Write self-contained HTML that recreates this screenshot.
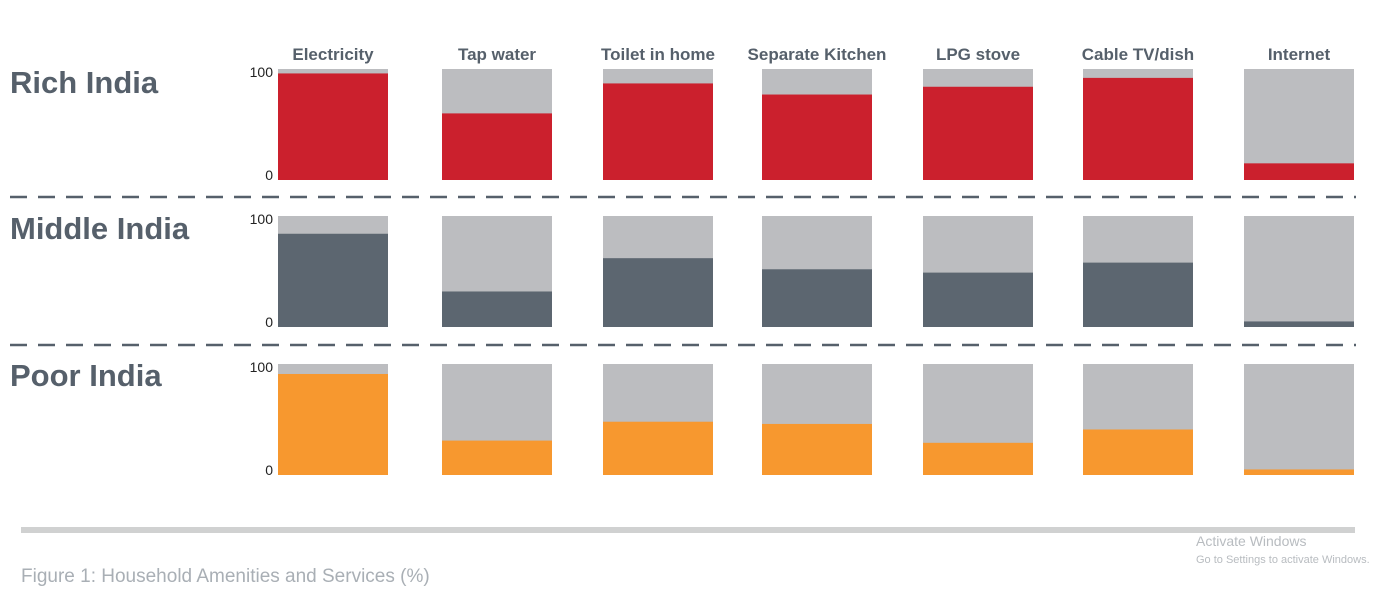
<!DOCTYPE html>
<html><head><meta charset="utf-8"><style>
body{margin:0;background:#fff;width:1400px;height:592px;overflow:hidden;font-family:"Liberation Sans",sans-serif}
svg{display:block}
</style></head><body>
<svg id="chart" width="1400" height="592">
<text x="10" y="93" font-size="31" font-weight="bold" fill="#56606b">Rich India</text>
<text x="10" y="239" font-size="31" font-weight="bold" fill="#56606b">Middle India</text>
<text x="10" y="386" font-size="31" font-weight="bold" fill="#56606b">Poor India</text>
<line x1="10" x2="1356" y1="197" y2="197" stroke="#56606b" stroke-width="2.5" stroke-dasharray="17,11"/>
<line x1="10" x2="1356" y1="345" y2="345" stroke="#56606b" stroke-width="2.5" stroke-dasharray="17,11"/>
<rect x="21" y="527" width="1334" height="6" fill="#d0d1d1"/>
<text x="21" y="582" font-size="19" fill="#a9afb5">Figure 1: Household Amenities and Services (%)</text>
<text x="1196" y="546" font-size="14" fill="#b8bcc0">Activate Windows</text>
<text x="1196" y="563" font-size="11" fill="#b8bcc0">Go to Settings to activate Windows.</text>
</svg>
<script>
const categories=["Electricity","Tap water","Toilet in home","Separate Kitchen","LPG stove","Cable TV/dish","Internet"];
const richValues=[96,60,87,77,84,92,15];
const middleValues=[84,32,62,52,49,58,5];
const poorValues=[91,31,48,46,29,41,5];
const yTicks=[0,100];
const svg=document.getElementById('chart');
const NS='http://www.w3.org/2000/svg';
const colX=[278,442,603,762,923,1083,1244];
const barW=110;
const rows=[{vals:richValues,top:69,color:'#cb202d',key:'rich'},{vals:middleValues,top:216,color:'#5c6670',key:'middle'},{vals:poorValues,top:364,color:'#f7982f',key:'poor'}];
const rowH=111;
function yScale(top,v){return top+rowH-v/100*rowH;}
function mk(tag,attrs){const e=document.createElementNS(NS,tag);for(const k in attrs)e.setAttribute(k,attrs[k]);svg.appendChild(e);return e;}
categories.forEach((c,i)=>{
  const t=mk('text',{x:colX[i]+barW/2,y:60,'font-size':17,'font-weight':'bold',fill:'#56606b','text-anchor':'middle'});
  t.textContent=c;
  
  
});
rows.forEach(r=>{
  yTicks.forEach(tv=>{
    const t=mk('text',{x:273,y:yScale(r.top,tv)+(tv===0?0:8),'font-size':14,fill:'#222','text-anchor':'end'});
    t.textContent=tv;
    
    
  });
  r.vals.forEach((v,i)=>{
    const bg=mk('rect',{x:colX[i],y:r.top,width:barW,height:rowH,fill:'#bcbdc0'});
    
    
    const y=yScale(r.top,v);
    const b=mk('rect',{x:colX[i],y:y,width:barW,height:r.top+rowH-y,fill:r.color});
    
    
  });
});
</script>
</body></html>
